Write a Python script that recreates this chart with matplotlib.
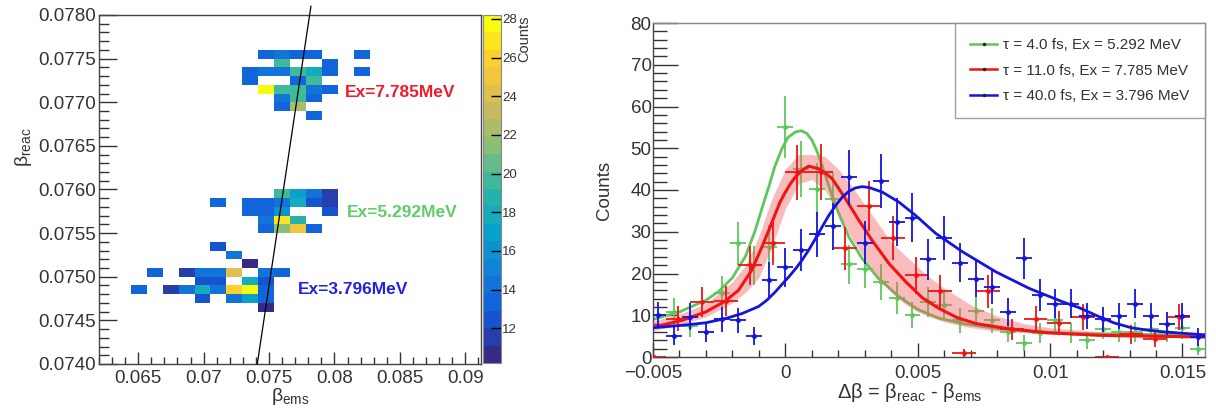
import numpy as np
import matplotlib
matplotlib.use("Agg")
import matplotlib.pyplot as plt
from matplotlib.colors import LinearSegmentedColormap, BoundaryNorm
from matplotlib.lines import Line2D
from matplotlib.ticker import MultipleLocator

plt.rcParams['font.family'] = ['Liberation Sans', 'DejaVu Sans']
plt.rcParams['mathtext.fontset'] = 'custom'
plt.rcParams['mathtext.rm'] = 'Liberation Sans'
plt.rcParams['mathtext.it'] = 'Liberation Sans:italic'
plt.rcParams['mathtext.bf'] = 'Liberation Sans:bold'

# ---- beta_reac vs beta_ems histogram (24 x 40 bins) ----
ems_edges = np.linspace(0.062, 0.0912, 25)
reac_edges = np.linspace(0.074, 0.078, 41)

# filled bins: (ems bin, reac bin, counts)
cell_ems = [10, 11, 12, 13, 16,
            11, 14,
            9, 10, 11, 12, 13, 14, 16,
            9, 12, 13,
            10, 11, 12, 13, 14,
            11, 12, 13,
            11, 12,
            13,
            11, 12, 13, 14,
            7, 9, 10, 11, 12, 13, 14,
            9, 10, 11, 14,
            10, 11, 12,
            10, 11, 12, 13,
            7,
            8,
            9,
            3, 5, 6, 7, 8, 10, 11,
            6, 7, 9, 10,
            2, 4, 5, 6, 7, 8, 9, 10,
            6, 8, 9, 10,
            10]
cell_reac = [35, 35, 35, 35, 35,
             34, 34,
             33, 33, 33, 33, 33, 33, 33,
             32, 32, 32,
             31, 31, 31, 31, 31,
             30, 30, 30,
             29, 29,
             28,
             19, 19, 19, 19,
             18, 18, 18, 18, 18, 18, 18,
             17, 17, 17, 17,
             16, 16, 16,
             15, 15, 15, 15,
             13,
             12,
             11,
             10, 10, 10, 10, 10, 10, 10,
             9, 9, 9, 9,
             8, 8, 8, 8, 8, 8, 8, 8,
             7, 7, 7, 7,
             6]
cell_counts = [13, 14.5, 13, 13, 13,
               20, 13,
               13, 14.5, 14.5, 20, 17.5, 13, 13,
               13, 13, 20,
               27.5, 20, 20, 14, 13,
               14.5, 20, 13,
               13, 22,
               13,
               20, 17, 14.5, 11.5,
               13, 13, 13, 14.5, 18, 12, 11.5,
               13, 13, 16, 12,
               14.5, 27, 19,
               13, 21, 25, 13,
               12.5,
               14.5,
               11,
               13, 11.5, 14.5, 14.5, 24, 14.5, 13,
               12.5, 12.5, 17.5, 12.5,
               13, 11.5, 14.5, 17.5, 14.5, 25.5, 27.5, 13,
               12.5, 14.5, 16.5, 13,
               11]

diag_ems = [0.0741, 0.0782]
diag_reac = [0.0740, 0.0781]

# ---- delta-beta spectra ----
green_x = np.arange(-7, 27) * 0.0006
green_counts = [10.8, 7.5, 9.0, 15.4, 27.2, 22.0, 26.4, 55.0, 45.0, 40.2,
                37.9, 22.2, 21.1, 18.0, 14.1, 10.0, 13.2, 12.4, 8.8, 11.0,
                8.8, 6.0, 3.4, 5.7, 8.8, 5.7, 4.0, 6.8, 6.0, 6.0,
                6.8, 6.0, 7.0, 2.0]
green_x = green_x[[0, 1] + list(range(3, 34))]
green_counts = [green_counts[0], green_counts[1]] + green_counts[3:]

red_x = (np.arange(-6, 17) + 0.5) * 0.0009
red_counts = [0, 9.2, 13.2, 13.4, 22.0, 27.2, 44.2, 44.3, 26.0, 36.1,
              28.5, 19.6, 15.7, 1.0, 15.7, 6.6, 9.2, 8.1, 9.6, 0,
              5.4, 4.4, 9.6]

blue_x = np.arange(-8, 27) * 0.0006
blue_counts = [10.0, 5.0, 9.7, 6.0, 9.0, 8.8, 5.0, 18.5, 21.5, 25.6,
               29.4, 31.3, 43.0, 27.4, 42.1, 32.3, 33.4, 23.4, 28.5, 22.6,
               18.8, 16.8, 10.8, 23.6, 14.8, 12.8, 12.8, 9.8, 9.0, 9.8,
               12.8, 9.8, 8.0, 9.8, 4.8]

# fitted line shapes
green_fit_x = [-0.005, -0.004, -0.003, -0.0025, -0.002, -0.0015, -0.00114,
               -0.0009, -0.00063, -0.0004, -0.00013, 0.0001, 0.00038, 0.0006,
               0.0008, 0.001, 0.0012, 0.0014, 0.0016, 0.0018, 0.002, 0.0024,
               0.0029, 0.0035, 0.0043, 0.005, 0.0058, 0.0067, 0.008, 0.0092,
               0.011, 0.0135, 0.01585]
green_fit_y = [9.0, 10.8, 13.6, 15.8, 19.0, 24.2, 30.3, 35.3, 40.7, 45.6,
               49.9, 52.6, 53.9, 54.2, 53.6, 52.0, 49.2, 45.6, 41.8, 38.0,
               34.6, 28.7, 23.6, 18.9, 14.4, 11.4, 9.3, 8.0, 6.8, 6.2,
               5.6, 5.4, 5.3]

red_fit_x = [-0.005, -0.0039, -0.003, -0.00227, -0.00177, -0.00127, -0.00089,
             -0.00063, -0.00038, -0.0002, 0.0, 0.0002, 0.00038, 0.0006,
             0.00088, 0.00126, 0.0015, 0.00177, 0.002, 0.00227, 0.00278,
             0.00328, 0.00391, 0.00455, 0.00517, 0.00581, 0.0065, 0.0072,
             0.0084, 0.0099, 0.0118, 0.0135, 0.01585]
red_fit_y = [7.1, 8.8, 10.8, 13.4, 16.0, 20.8, 26.3, 30.3, 34.3, 37.1,
             39.5, 41.6, 43.1, 44.6, 45.7, 45.1, 44.1, 42.7, 40.5, 37.9,
             32.7, 27.9, 22.4, 18.0, 14.2, 11.6, 9.4, 8.0, 6.8, 5.8,
             5.2, 5.0, 4.8]

band_x = [-0.005, -0.004, -0.003, -0.002, -0.0015, -0.001, -0.0005, 0.0,
          0.0005, 0.001, 0.0015, 0.002, 0.0025, 0.003, 0.0035, 0.004,
          0.0045, 0.005, 0.0055, 0.006, 0.007, 0.008, 0.009, 0.010, 0.012,
          0.014, 0.01585]
band_lo = [6.3, 7.7, 9.6, 13.0, 15.5, 19.0, 26.5, 35.5, 41.5, 42.5,
           40.0, 34.5, 28.5, 23.5, 19.0, 15.5, 12.8, 10.8, 9.5, 8.4,
           7.0, 6.2, 5.8, 5.5, 5.1, 4.8, 4.6]
band_hi = [8.6, 10.3, 12.8, 18.0, 22.0, 29.0, 38.0, 45.0, 48.5, 48.5,
           48.0, 45.0, 41.0, 36.5, 32.0, 27.5, 24.5, 21.5, 18.8, 16.5,
           12.5, 9.8, 8.0, 7.0, 6.0, 5.6, 5.4]

blue_fit_x = [-0.005, -0.0039, -0.003, -0.00227, -0.00164, -0.00101, -0.0007,
              -0.00038, -0.0001, 0.00013, 0.00038, 0.00063, 0.0009, 0.00114,
              0.0014, 0.00164, 0.0019, 0.00215, 0.0024, 0.00265, 0.0029,
              0.00316, 0.00366, 0.00429, 0.00492, 0.00568, 0.00669, 0.00795,
              0.00922, 0.01048, 0.0111, 0.0118, 0.0124, 0.01307, 0.0137,
              0.01433, 0.01496, 0.01585]
blue_fit_y = [7.0, 7.6, 8.2, 9.2, 10.4, 12.1, 13.6, 15.6, 17.6, 19.2,
              21.1, 23.2, 25.8, 28.4, 31.3, 33.9, 36.3, 38.3, 39.7, 40.5,
              40.8, 40.6, 39.5, 37.1, 33.9, 29.6, 25.2, 20.4, 16.4, 13.2,
              11.8, 9.8, 8.2, 7.0, 6.4, 6.0, 5.7, 5.3]

legend_labels = ['τ = 4.0 fs, Ex = 5.292 MeV',
                 'τ = 11.0 fs, Ex = 7.785 MeV',
                 'τ = 40.0 fs, Ex = 3.796 MeV']

GREEN = '#5cc85c'
RED = '#f01414'
BLUE = '#1414dc'
FRAME = '#444444'

fig = plt.figure(figsize=(12.16, 4.08), dpi=100)

# ---------------- left panel ----------------
ax1 = fig.add_axes([99 / 1216, 44 / 408, 382 / 1216, 349 / 408])
H = np.full((len(reac_edges) - 1, len(ems_edges) - 1), np.nan)
for i, j, c in zip(cell_ems, cell_reac, cell_counts):
    H[j, i] = c

bird = LinearSegmentedColormap.from_list('bird', [
    (0.2082, 0.1664, 0.5293), (0.0592, 0.3599, 0.8684), (0.0780, 0.5041, 0.8385),
    (0.0232, 0.6419, 0.7914), (0.1802, 0.7178, 0.6425), (0.5301, 0.7492, 0.4662),
    (0.8186, 0.7328, 0.3499), (0.9956, 0.7862, 0.1968), (0.9764, 0.9832, 0.0539)])
norm = BoundaryNorm(np.linspace(10.2, 28.2, 21), bird.N)
mesh = ax1.pcolormesh(ems_edges, reac_edges, np.ma.masked_invalid(H),
                      cmap=bird, norm=norm)

ax1.plot(diag_ems, diag_reac, color='black', lw=0.9, clip_on=False, zorder=5)

ax1.set_xlim(0.062, 0.0912)
ax1.set_ylim(0.074, 0.078)
ax1.set_xticks([0.065, 0.07, 0.075, 0.08, 0.085, 0.09])
ax1.set_xticklabels(['0.065', '0.07', '0.075', '0.08', '0.085', '0.09'])
ax1.set_yticks(np.arange(0.0740, 0.07801, 0.0005))
ax1.set_yticklabels(['%.4f' % v for v in np.arange(0.0740, 0.07801, 0.0005)])
ax1.xaxis.set_minor_locator(MultipleLocator(0.001))
ax1.yaxis.set_minor_locator(MultipleLocator(0.0001))
ax1.tick_params(axis='both', which='both', direction='in', colors='#333333',
                labelsize=13.5, width=1.0)
ax1.tick_params(axis='y', which='major', length=13, pad=2)
ax1.tick_params(axis='y', which='minor', length=7)
ax1.tick_params(axis='x', which='major', length=9, pad=4)
ax1.tick_params(axis='x', which='minor', length=5)
for sp in ax1.spines.values():
    sp.set_color(FRAME)
    sp.set_linewidth(1.0)

ax1.set_xlabel(r'β$_{\rm ems}$', fontsize=14, color='#333333')
ax1.xaxis.set_label_coords(0.5, -0.064)
ax1.set_ylabel(r'β$_{\rm reac}$', fontsize=14, color='#333333')
ax1.yaxis.set_label_coords(-0.17, 0.62)

ax1.text(0.08077, 0.07711, 'Ex=7.785MeV', color='#f21b2d', fontsize=12.5,
         fontweight='bold', va='center')
ax1.text(0.08093, 0.07574, 'Ex=5.292MeV', color='#62cc6a', fontsize=12.5,
         fontweight='bold', va='center')
ax1.text(0.07717, 0.07485, 'Ex=3.796MeV', color='#2222e0', fontsize=12.5,
         fontweight='bold', va='center')

cax = fig.add_axes([483 / 1216, 45 / 408, 18 / 1216, 348 / 408])
cb = fig.colorbar(mesh, cax=cax)
cb.set_ticks(np.arange(12, 29, 2))
cb.outline.set_edgecolor('#888888')
cb.outline.set_linewidth(0.8)
cax.tick_params(direction='in', length=7, width=1.0, colors='black',
                labelsize=9.5, labelcolor='#333333', pad=1)
cax.minorticks_off()
cax.text(2.3, 1.0, 'Counts', transform=cax.transAxes, rotation=90,
         ha='center', va='top', fontsize=10.5, color='#333333')

# ---------------- right panel ----------------
ax2 = fig.add_axes([653 / 1216, 51 / 408, 552 / 1216, 334 / 408])

ax2.errorbar(green_x, green_counts, xerr=0.0003, yerr=np.sqrt(green_counts),
             fmt='o', ms=2.5, color=GREEN, ecolor=GREEN, elinewidth=1.3,
             capsize=0, zorder=2)
ax2.plot(green_fit_x, green_fit_y, color=GREEN, lw=2.0, zorder=2)

ax2.fill_between(band_x, band_lo, band_hi, color='#f06060', alpha=0.42,
                 lw=0, zorder=3)

ax2.errorbar(red_x, red_counts, xerr=0.00045, yerr=np.sqrt(red_counts),
             fmt='o', ms=2.5, color=RED, ecolor=RED, elinewidth=1.3,
             capsize=0, zorder=4)
ax2.plot(red_fit_x, red_fit_y, color=RED, lw=2.2, zorder=4)

ax2.errorbar(blue_x, blue_counts, xerr=0.0003, yerr=np.sqrt(blue_counts),
             fmt='o', ms=2.5, color=BLUE, ecolor=BLUE, elinewidth=1.3,
             capsize=0, zorder=5)
ax2.plot(blue_fit_x, blue_fit_y, color=BLUE, lw=2.0, zorder=5)

ax2.set_xlim(-0.005, 0.01585)
ax2.set_ylim(0, 80)
ax2.set_xticks([-0.005, 0, 0.005, 0.01, 0.015])
ax2.set_xticklabels(['\u22120.005', '0', '0.005', '0.01', '0.015'])
ax2.set_yticks(np.arange(0, 81, 10))
ax2.xaxis.set_minor_locator(MultipleLocator(0.001))
ax2.yaxis.set_minor_locator(MultipleLocator(2))
ax2.tick_params(axis='both', which='both', direction='in', colors='#333333',
                labelsize=13.5, width=1.0)
ax2.tick_params(axis='y', which='major', length=18, pad=1)
ax2.tick_params(axis='y', which='minor', length=10)
ax2.tick_params(axis='x', which='major', length=10, pad=6)
ax2.tick_params(axis='x', which='minor', length=5)
for sp in ax2.spines.values():
    sp.set_color(FRAME)
    sp.set_linewidth(1.0)
ax2.spines['top'].set_color('#888888')
ax2.spines['right'].set_color('#888888')

ax2.set_xlabel(r'Δβ = β$_{\rm reac}$ - β$_{\rm ems}$', fontsize=14.5,
               color='#333333')
ax2.xaxis.set_label_coords(0.465, -0.072)
ax2.set_ylabel('Counts', fontsize=13.5, color='#333333')
ax2.yaxis.set_label_coords(-0.072, 0.5)

handles = [Line2D([0], [0], color=c, lw=1.8, marker='o', ms=1.5,
                  markerfacecolor='#222222', markeredgecolor='#222222')
           for c in (GREEN, RED, BLUE)]
leg = ax2.legend(handles, legend_labels, loc='upper right', fontsize=11,
                 frameon=True, fancybox=False, borderaxespad=0,
                 handlelength=1.8, handletextpad=0.4, labelspacing=0.75,
                 borderpad=1.0)
leg.get_frame().set_edgecolor('#888888')
leg.get_frame().set_linewidth(1.0)
for t in leg.get_texts():
    t.set_color('#333333')

fig.savefig('out.png', dpi=100)
